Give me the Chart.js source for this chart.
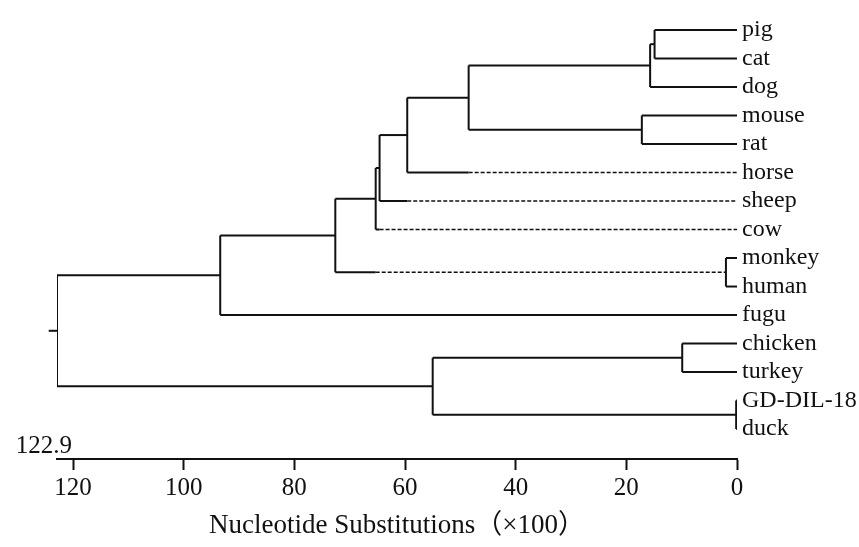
<!DOCTYPE html>
<html>
<head>
<meta charset="utf-8">
<title>Dendrogram</title>
<script src="https://cdn.jsdelivr.net/npm/chart.js@4.4.0/dist/chart.umd.min.js"></script>
<style>
  html, body { margin: 0; padding: 0; background: #fff; }
  #wrap { width: 859px; height: 547px; }
</style>
</head>
<body>
<div id="wrap"><canvas id="tree"></canvas></div>
<script>
// --- DATA ---
const leaves = ['pig', 'cat', 'dog', 'mouse', 'rat', 'horse', 'sheep', 'cow', 'monkey', 'human', 'fugu', 'chicken', 'turkey', 'GD-DIL-18', 'duck'];

// each merge k creates node 'n' + k from mergeLeft[k] and mergeRight[k] at mergeHeight[k]
const mergeLeft   = ['pig', 'n0', 'mouse', 'n1', 'n3', 'n4', 'n5', 'monkey', 'n6', 'n8', 'chicken', 'GD-DIL-18', 'n10', 'n9'];
const mergeRight  = ['cat', 'dog', 'rat', 'n2', 'horse', 'sheep', 'cow', 'human', 'n7', 'fugu', 'turkey', 'duck', 'n11', 'n12'];
const mergeHeight = [14.9, 15.7, 17.2, 48.5, 59.6, 64.6, 65.3, 2.0, 72.6, 93.4, 9.9, 0.15, 55.0, 122.9];

// branches that turn dashed from a given height down to the tips
const dashedBranch = ['horse', 'sheep', 'cow', 'n7'];
const dashedFrom   = [48.5, 59.6, 64.6, 65.3];

const xTicks = [120, 100, 80, 60, 40, 20, 0];
const xTitle = 'Nucleotide Substitutions（×100）';

// --- STYLE ---
const INK = '#111';
const FAMILY = "'Liberation Serif', 'Noto Sans CJK SC', serif";
const rootHeight = mergeHeight[mergeHeight.length - 1];

function seg(points, dashed) {
    return {
        data: points,
        borderColor: INK,
        borderWidth: dashed ? 1.5 : 2,
        borderDash: dashed ? [4, 2] : [],
        pointRadius: 0,
        tension: 0,
        fill: false
    };
}

// --- BUILD TREE SEGMENTS ---
const pos = {};
leaves.forEach((name, i) => { pos[name] = { x: 0, y: i }; });
const datasets = [];

function addBranch(name, h) {
    const p = pos[name];
    const j = dashedBranch.indexOf(name);
    if (j >= 0) {
        datasets.push(seg([{ x: h, y: p.y }, { x: dashedFrom[j], y: p.y }], false));
        datasets.push(seg([{ x: dashedFrom[j], y: p.y }, { x: p.x, y: p.y }], true));
    } else {
        datasets.push(seg([{ x: h, y: p.y }, { x: p.x, y: p.y }], false));
    }
}

mergeHeight.forEach((h, k) => {
    const a = pos[mergeLeft[k]], b = pos[mergeRight[k]];
    datasets.push(seg([{ x: h, y: a.y }, { x: h, y: b.y }], false));
    addBranch(mergeLeft[k], h);
    addBranch(mergeRight[k], h);
    pos['n' + k] = { x: h, y: (a.y + b.y) / 2 };
});

// small stub left of the root
const root = pos['n' + (mergeHeight.length - 1)];
const stub = seg([{ x: rootHeight, y: root.y }, { x: rootHeight + 1.5, y: root.y }], false);
stub.clip = false;
datasets.push(stub);

// --- ROOT DISTANCE LABEL ---
const rootLabel = {
    id: 'rootLabel',
    afterDraw(chart) {
        const { ctx, chartArea } = chart;
        const x = chart.scales.x.getPixelForValue(rootHeight);
        ctx.save();
        ctx.font = `25px ${FAMILY}`;
        ctx.fillStyle = INK;
        ctx.textAlign = 'right';
        ctx.textBaseline = 'alphabetic';
        ctx.fillText(rootHeight.toFixed(1), x + 15, chartArea.bottom - 6);
        ctx.restore();
    }
};

new Chart(document.getElementById('tree'), {
    type: 'line',
    data: { datasets },
    plugins: [rootLabel],
    options: {
        responsive: true,
        maintainAspectRatio: false,
        animation: false,
        layout: { padding: { left: 57, right: 0, top: 0, bottom: 0 } },
        plugins: { legend: { display: false }, tooltip: { enabled: false } },
        scales: {
            x: {
                type: 'linear',
                reverse: true,
                min: 0,
                max: rootHeight,
                afterBuildTicks: s => { s.ticks = xTicks.map(v => ({ value: v })); },
                afterFit: s => { s.height = 88; },
                grid: { drawOnChartArea: false, drawTicks: true, tickLength: 11, tickWidth: 2, tickColor: INK },
                border: { display: true, color: INK, width: 2 },
                ticks: { color: INK, font: { family: FAMILY, size: 25 }, padding: 3, maxRotation: 0, autoSkip: false },
                title: { display: true, text: xTitle, color: INK, font: { family: FAMILY, size: 27 }, padding: { top: 0, bottom: 5 } }
            },
            y: {
                type: 'linear',
                position: 'right',
                reverse: true,
                min: -1.05,
                max: 15.05,
                afterBuildTicks: s => { s.ticks = leaves.map((_, i) => ({ value: i })); },
                afterFit: s => { s.width = 122; s.paddingTop = 0; s.paddingBottom = 0; },
                grid: { display: false, tickLength: 0 },
                border: { display: false },
                ticks: { color: INK, font: { family: FAMILY, size: 24 }, padding: 5, autoSkip: false, callback: v => leaves[v] }
            }
        }
    }
});
</script>
</body>
</html>
